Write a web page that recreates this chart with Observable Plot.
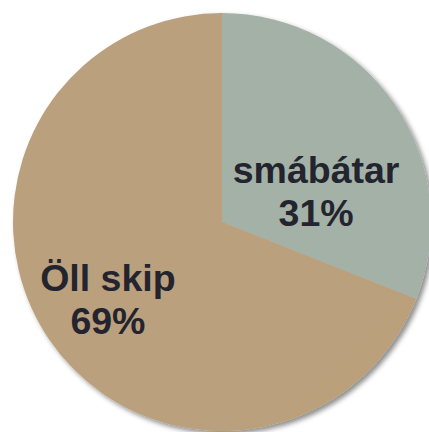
<!DOCTYPE html>
<html>
<head>
<meta charset="utf-8">
<script src="https://cdn.jsdelivr.net/npm/d3@7"></script>
<script src="https://cdn.jsdelivr.net/npm/@observablehq/plot@0.6"></script>
<style>
  html, body { margin: 0; padding: 0; background: #fff; }
  #chart { width: 429px; height: 432px; overflow: hidden; }
</style>
</head>
<body>
<div id="chart"></div>
<script>
// Data
const categories = ["smábátar", "Öll skip"];
const shares = [31, 69];
const percentLabels = ["31%", "69%"];

const W = 429, H = 432;
const R = 209;            // pixel radius
const CX = 222, CY = 222; // pixel centre

const rows = categories.map((c, i) => ({ category: c, value: shares[i], pct: percentLabels[i] }));
const arcs = d3.pie().sort(null).value(d => d.value)(rows);
const slices = arcs.map((a, i) => ({ ...rows[i], start: a.startAngle, end: a.endAngle, mid: (a.startAngle + a.endAngle) / 2, grad: i === 0 ? "gradGreen" : "gradTan" }));

// unit-circle data coordinates
const xDomain = [-CX / R, (W - CX) / R];
const yDomain = [-(H - CY) / R, CY / R];

function pieMark(data) {
  return Plot.dot(data, {
    x: () => 0, y: () => 0,
    render(index, scales, values, dims, context) {
      const cx = scales.x(0), cy = scales.y(0);
      const r = scales.x(1) - scales.x(0);
      const ns = "http://www.w3.org/2000/svg";
      const g = document.createElementNS(ns, "g");
      g.setAttribute("filter", "url(#shadow)");
      const arc = d3.arc().innerRadius(0).outerRadius(r);
      for (const i of index) {
        const d = data[i];
        const p = document.createElementNS(ns, "path");
        p.setAttribute("d", arc({ startAngle: d.start, endAngle: d.end }));
        p.setAttribute("transform", `translate(${cx},${cy})`);
        p.setAttribute("fill", `url(#${d.grad})`);
        p.setAttribute("stroke", "none");
        g.appendChild(p);
      }
      return g;
    }
  });
}

const labelR = 0.55;
const lx = d => labelR * Math.sin(d.mid);
const ly = d => labelR * Math.cos(d.mid);
const textStyle = { fontSize: 37.5, fontWeight: "bold", fill: "#24242f", lineHeight: 1.15, fontFamily: "Liberation Sans, Arial, sans-serif", textAnchor: "middle" };

const plot = Plot.plot({
  width: W, height: H,
  margin: 0,
  x: { domain: xDomain, axis: null },
  y: { domain: yDomain, axis: null },
  style: { background: "transparent", overflow: "visible" },
  marks: [
    pieMark(slices),
    Plot.text([slices[0]], { x: lx, y: ly, text: d => d.category + "\n" + d.pct, dx: -1.5, dy: 32.5, ...textStyle }),
    Plot.text([slices[1]], { x: lx, y: ly, text: d => d.category + "\n" + d.pct, dx: -19.5, dy: 11.5, ...textStyle })
  ]
});

// gradients and shadow
const ns = "http://www.w3.org/2000/svg";
const defs = document.createElementNS(ns, "defs");
defs.innerHTML = `
  <linearGradient id="gradGreen" gradientUnits="userSpaceOnUse" x1="222" y1="100" x2="420" y2="300">
    <stop offset="0" stop-color="#a3b1a7"/>
    <stop offset="0.5" stop-color="#a2b1a7"/>
    <stop offset="1" stop-color="#879990"/>
  </linearGradient>
  <linearGradient id="gradTan" gradientUnits="userSpaceOnUse" x1="60" y1="60" x2="400" y2="400">
    <stop offset="0" stop-color="#baa07c"/>
    <stop offset="0.45" stop-color="#bb9f79"/>
    <stop offset="0.7" stop-color="#c09a67"/>
    <stop offset="1" stop-color="#a6895f"/>
  </linearGradient>
  <filter id="shadow" x="-10%" y="-10%" width="125%" height="125%">
    <feDropShadow dx="3" dy="3" stdDeviation="2.5" flood-color="#000" flood-opacity="0.45"/>
  </filter>`;
plot.insertBefore(defs, plot.firstChild);
document.getElementById("chart").appendChild(plot);
</script>
</body>
</html>
